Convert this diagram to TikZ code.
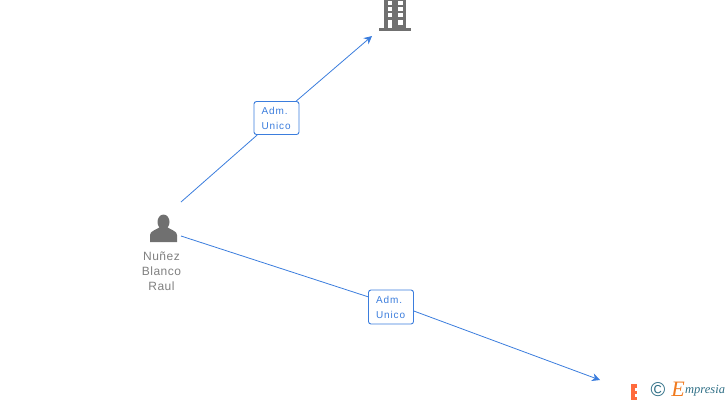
\documentclass[tikz,border=0pt]{standalone}
\usepackage{fontspec}
\setmainfont{Liberation Sans}
\newfontfamily\spacedfont[LetterSpace=4]{Liberation Sans}
\newfontfamily\rolefont[LetterSpace=9]{Liberation Sans}
\newfontfamily\logofont{Liberation Serif}
\usetikzlibrary{arrows.meta}
\usepackage{xcolor}
\definecolor{linkblue}{HTML}{3B7DDD}
\definecolor{icongray}{HTML}{707070}
\definecolor{nametext}{HTML}{808080}
\definecolor{logoteal}{HTML}{2F6F86}
\definecolor{logoorange}{HTML}{F07A1E}
\definecolor{cutorange}{HTML}{FF6A3C}
\tikzset{
	link/.style={draw=linkblue,line width=0.8pt},
	linkarrow/.style={link,-{Stealth[length=8pt,width=8pt,inset=2.5pt]}},
	rolebox/.style={draw=linkblue,fill=white,rounded corners=2.5pt,line width=0.9pt,text=linkblue,minimum width=45pt,minimum height=33pt,inner xsep=7.5pt,inner ysep=0pt,text width=30pt,align=left,font=\rolefont\fontsize{10}{15}\selectfont},
	namelabel/.style={text=nametext,inner sep=0pt,align=center,font=\spacedfont\fontsize{12}{15}\selectfont},
}
\begin{document}
\begin{tikzpicture}[x=1pt,y=-1pt]
			\useasboundingbox (0,0) rectangle (728,400);
			
			% free ends of the connectors
			\coordinate (personTop) at (181,202);
			\coordinate (personSide) at (181,236);
			\coordinate (companyEnd) at (372,36);
			\coordinate (otherEnd) at (600,380);
			
			% role boxes
			\node[rolebox] (adm1) at (276.5,118) {Adm.\\Unico};
			\node[rolebox,minimum height=34pt] (adm2) at (391,307) {Adm.\\Unico};
			
			% connectors
			\draw[link] (personTop) -- (adm1);
			\draw[linkarrow] (adm1) -- (companyEnd);
			\draw[link] (personSide) -- (adm2.156);
			\draw[linkarrow] (adm2.-10) -- (otherEnd);
			
			% person
			\fill[icongray] (163.5,222) ellipse (6 and 7.5);
			\fill[icongray] (150,242) -- (150,235) .. controls (150,231) and (156,230) .. (160,227) -- (167,227) .. controls (171,230) and (177,231) .. (177,235) -- (177,242) -- cycle;
			\node[namelabel] (person) at (161.5,271) {Nuñez\\Blanco\\Raul};
			
			% building
			\fill[icongray] (384,0) rectangle (406,28);
			\fill[icongray] (379,28) rectangle (411,31);
			\foreach \row in {1,7,13}{
				\fill[white] (388,\row) rectangle (392,\row+4);
				\fill[white] (398,\row) rectangle (403,\row+4);
			}
			\fill[white] (388,20) rectangle (392,28);
			\fill[white] (398,20) rectangle (403,25);
			
			% cut off logo at the corner
			\fill[cutorange] (631,384) rectangle (637,400);
			\fill[white] (634.5,388) rectangle (637,390.5);
			\fill[white] (634.5,394) rectangle (637,396.5);
			\node[text=logoteal,inner sep=0pt,font=\fontsize{20}{20}\selectfont] (copyright) at (658,389.5) {©};
			\node[text=logoorange,inner sep=0pt,font=\logofont\itshape\fontsize{22}{22}\selectfont] (logoE) at (678,389) {E};
			\node[text=logoteal,inner sep=0pt,anchor=base west,font=\logofont\itshape\fontsize{12.5}{14}\selectfont] (logoText) at (685,393) {mpresia};
			
		\end{tikzpicture}
\end{document}
